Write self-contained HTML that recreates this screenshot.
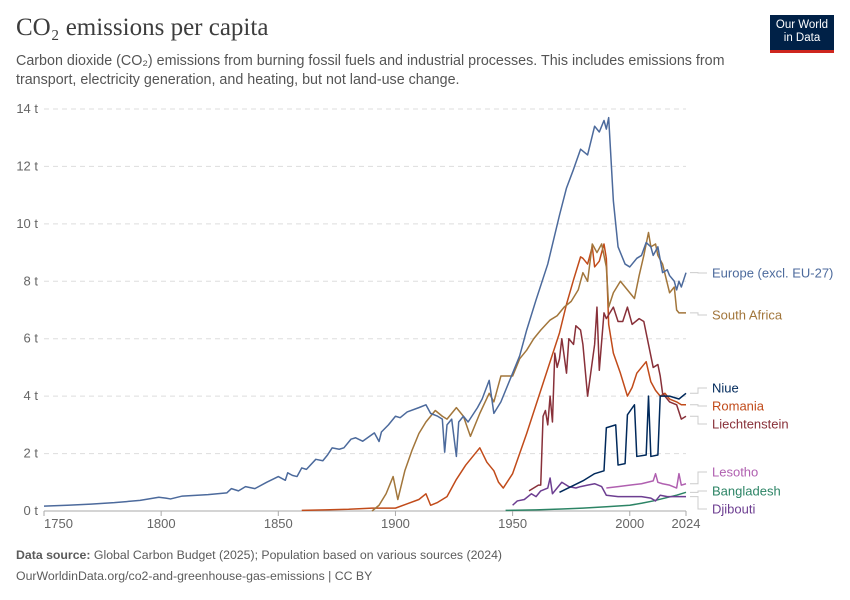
<!DOCTYPE html>
<html><head><meta charset="utf-8">
<style>
body{margin:0;background:#fff;font-family:"Liberation Sans",sans-serif;}
#wrap{position:relative;width:850px;height:600px;overflow:hidden;}
.title{position:absolute;left:16px;top:14px;font-family:"Liberation Serif",serif;font-size:25px;color:#3d3d3d;}
.sub{position:absolute;left:16px;top:52px;width:740px;font-size:14.3px;line-height:19px;color:#555;}
.logo{position:absolute;left:770px;top:15px;width:64px;height:38px;background:#002147;color:#fff;font-size:11.5px;line-height:13px;text-align:center;padding-top:4px;box-sizing:border-box;border-bottom:3px solid #ce261e;}
.foot{position:absolute;left:16px;font-size:12.3px;color:#5b5b5b;}
</style></head><body>
<div id="wrap">
<div class="title">CO₂ emissions per capita</div>
<div class="sub">Carbon dioxide (CO₂) emissions from burning fossil fuels and industrial processes. This includes emissions from transport, electricity generation, and heating, but not land-use change.</div>
<div class="logo">Our World<br>in Data</div>
<svg id="chart" width="850" height="600" style="position:absolute;left:0;top:0"></svg>
<div class="foot" style="top:548px"><b>Data source:</b> Global Carbon Budget (2025); Population based on various sources (2024)</div>
<div class="foot" style="top:569px">OurWorldinData.org/co2-and-greenhouse-gas-emissions | CC BY</div>
</div>
<script>
const yTicks=[0,2,4,6,8,10,12,14];
const xTicks=[1750,1800,1850,1900,1950,2000,2024];
const seriesNames=["Europe (excl. EU-27)","South Africa","Niue","Romania","Liechtenstein","Lesotho","Bangladesh","Djibouti"];
const europeYears=[1750,1760,1770,1780,1791,1799,1802,1804,1809,1820,1828,1830,1833,1836,1840,1845,1850,1853,1854,1856,1858,1860,1862,1866,1869,1871,1873,1876,1878,1881,1883,1886,1891,1893,1894,1897,1900,1902,1905,1910,1913,1915,1918,1920,1921,1922,1924,1926,1927,1929,1931,1935,1937,1940,1942,1945,1950,1953,1956,1960,1965,1970,1973,1976,1979,1982,1985,1987,1989,1990,1991,1993,1995,1998,2000,2003,2005,2007,2009,2010,2012,2014,2016,2017,2019,2020,2021,2022,2024];
const europeValues=[0.17,0.2,0.24,0.29,0.37,0.48,0.45,0.42,0.52,0.57,0.63,0.78,0.7,0.85,0.78,1.0,1.2,1.07,1.33,1.24,1.2,1.5,1.45,1.8,1.75,1.95,2.2,2.15,2.2,2.5,2.55,2.43,2.72,2.42,2.75,3.0,3.3,3.25,3.45,3.6,3.7,3.4,3.3,3.2,2.05,3.0,3.2,1.9,3.1,3.3,3.1,3.6,3.9,4.55,3.4,3.8,4.8,5.4,6.3,7.35,8.6,10.3,11.25,11.9,12.6,12.4,13.4,13.2,13.6,13.3,13.7,10.8,9.2,8.6,8.5,8.8,8.9,9.35,9.2,8.9,9.2,8.3,8.4,8.2,8.0,7.7,8.0,7.8,8.3];
const safYears=[1890,1893,1896,1899,1901,1904,1907,1910,1913,1917,1920,1922,1926,1929,1932,1936,1940,1942,1945,1950,1953,1956,1959,1962,1966,1969,1972,1975,1978,1980,1982,1984,1986,1988,1990,1991,1993,1996,1999,2002,2004,2006,2008,2009,2011,2012,2014,2017,2019,2020,2021,2024];
const safValues=[0.0,0.2,0.6,1.2,0.4,1.4,2.1,2.7,3.1,3.5,3.3,3.2,3.6,3.3,2.6,3.4,4.1,3.8,4.7,4.7,5.3,5.6,6.0,6.3,6.65,6.8,7.1,7.3,7.7,8.3,8.0,9.3,9.0,9.3,8.5,7.1,7.6,8.0,7.7,7.4,8.2,8.9,9.7,9.2,9.3,8.9,8.6,7.6,7.8,7.0,6.9,6.9];
const niueYears=[1970,1975,1980,1985,1989,1990,1994,1995,1998,1999,2002,2003,2007,2008,2009,2012,2013,2017,2021,2024];
const niueValues=[0.65,0.85,1.05,1.3,1.4,2.9,3.0,1.6,1.65,3.35,3.7,1.9,1.95,4.0,1.9,1.95,4.0,4.0,3.9,4.1];
const romYears=[1860,1870,1880,1890,1900,1905,1910,1913,1915,1918,1922,1926,1930,1935,1936,1939,1942,1944,1946,1950,1956,1963,1970,1973,1976,1979,1980,1982,1984,1985,1987,1989,1990,1991,1993,1996,1999,2001,2003,2007,2009,2011,2013,2015,2017,2020,2022,2024];
const romValues=[0.02,0.04,0.06,0.1,0.1,0.25,0.4,0.6,0.2,0.3,0.5,1.1,1.6,2.1,2.2,1.7,1.4,1.0,0.8,1.3,2.7,4.45,6.2,7.2,8.05,8.85,8.8,8.6,9.2,8.5,8.7,9.3,8.8,6.5,5.5,4.8,4.0,4.3,4.8,5.2,4.5,4.2,4.0,4.1,3.9,3.8,3.7,3.7];
const liechYears=[1957,1961,1962,1963,1964,1965,1966,1967,1968,1969,1970,1971,1973,1974,1976,1977,1979,1980,1982,1985,1986,1987,1989,1990,1993,1995,1997,1999,2001,2004,2006,2008,2010,2012,2013,2014,2017,2020,2022,2024];
const liechValues=[0.7,0.9,0.9,3.3,3.5,3.0,4.0,3.1,5.5,5.0,5.3,6.0,4.8,6.0,5.8,6.45,6.3,5.8,4.0,5.8,7.1,4.9,6.9,6.7,7.1,6.6,6.6,7.1,6.5,6.7,6.6,5.8,5.0,5.1,4.7,4.1,3.8,3.7,3.2,3.3];
const lesYears=[1990,1995,2000,2005,2010,2011,2012,2014,2017,2020,2021,2022,2024];
const lesValues=[0.8,0.85,0.9,0.95,1.05,1.3,1.0,0.95,0.9,0.8,1.3,0.9,0.95];
const banYears=[1947,1960,1971,1980,1990,2000,2005,2010,2015,2020,2024];
const banValues=[0.02,0.04,0.07,0.1,0.15,0.2,0.27,0.35,0.45,0.55,0.65];
const djiYears=[1950,1952,1955,1958,1960,1962,1965,1966,1967,1969,1971,1974,1977,1979,1982,1985,1988,1990,1995,2000,2005,2009,2011,2013,2016,2020,2024];
const djiValues=[0.2,0.35,0.4,0.6,0.5,0.7,0.8,1.15,0.6,0.8,1.0,0.85,0.8,0.85,0.9,0.95,0.85,0.55,0.5,0.5,0.5,0.45,0.35,0.55,0.5,0.5,0.5];

const L=44,R=686,Y0=511,Y14=109;
const x=yr=>L+(yr-1750)*(R-L)/(2024-1750);
const y=v=>Y0-v*(Y0-Y14)/14;
const svg=document.getElementById('chart');
const NS='http://www.w3.org/2000/svg';
function mk(t,a){const e=document.createElementNS(NS,t);for(const k in a)e.setAttribute(k,a[k]);svg.appendChild(e);return e;}
yTicks.forEach(v=>{
  if(v>0){const g=mk('line',{x1:L,x2:R,y1:y(v),y2:y(v),stroke:'#ddd','stroke-dasharray':'5,4'});
  
  }
  const t=mk('text',{x:38,y:y(v)+4,'text-anchor':'end','font-size':'13','fill':'#666','font-family':'Liberation Sans'});
  t.textContent=v+' t';
  
  
});
const ax=mk('line',{x1:L,x2:R,y1:Y0,y2:Y0,stroke:'#aaa'});


xTicks.forEach((yr,i)=>{
  const tk=mk('line',{x1:x(yr),x2:x(yr),y1:Y0,y2:Y0+5,stroke:'#aaa'});
  
  
  const t=mk('text',{x:x(yr),y:Y0+17,'text-anchor':i==0?'start':'middle','font-size':'13','fill':'#666','font-family':'Liberation Sans'});
  t.textContent=yr;
  
  
});
const series=[
 [banYears,banValues,'#2C8465','bangladesh-line'],
 [djiYears,djiValues,'#6D3E91','djibouti-line'],
 [lesYears,lesValues,'#B060B0','lesotho-line'],
 [romYears,romValues,'#C14B1A','romania-line'],
 [liechYears,liechValues,'#883039','liechtenstein-line'],
 [niueYears,niueValues,'#00295B','niue-line'],
 [safYears,safValues,'#A2763B','south-africa-line'],
 [europeYears,europeValues,'#4C6A9C','europe-line']
];
series.forEach(s=>{
  const p=mk('polyline',{points:s[0].map((yr,i)=>x(yr)+','+y(s[1][i])).join(' '),fill:'none',stroke:s[2],'stroke-width':'1.5','stroke-linejoin':'round'});
  
  
});
const labels=[[0,273,'#4C6A9C',8.3],[1,315,'#A2763B',6.9],[2,388,'#00295B',4.1],[3,406,'#C14B1A',3.7],[4,424,'#883039',3.3],[5,472,'#B060B0',0.95],[6,491,'#2C8465',0.65],[7,509,'#6D3E91',0.5]];
labels.forEach(l=>{
  const c=mk('polyline',{points:`690,${y(l[3])} 698,${y(l[3])} 698,${l[1]} 707,${l[1]}`,fill:'none',stroke:'#ccc'});
  
  
  const t=mk('text',{x:712,y:l[1]+4.5,'font-size':'13','fill':l[2],'font-family':'Liberation Sans'});
  t.textContent=seriesNames[l[0]];
  
  
});
</script>
</body></html>
